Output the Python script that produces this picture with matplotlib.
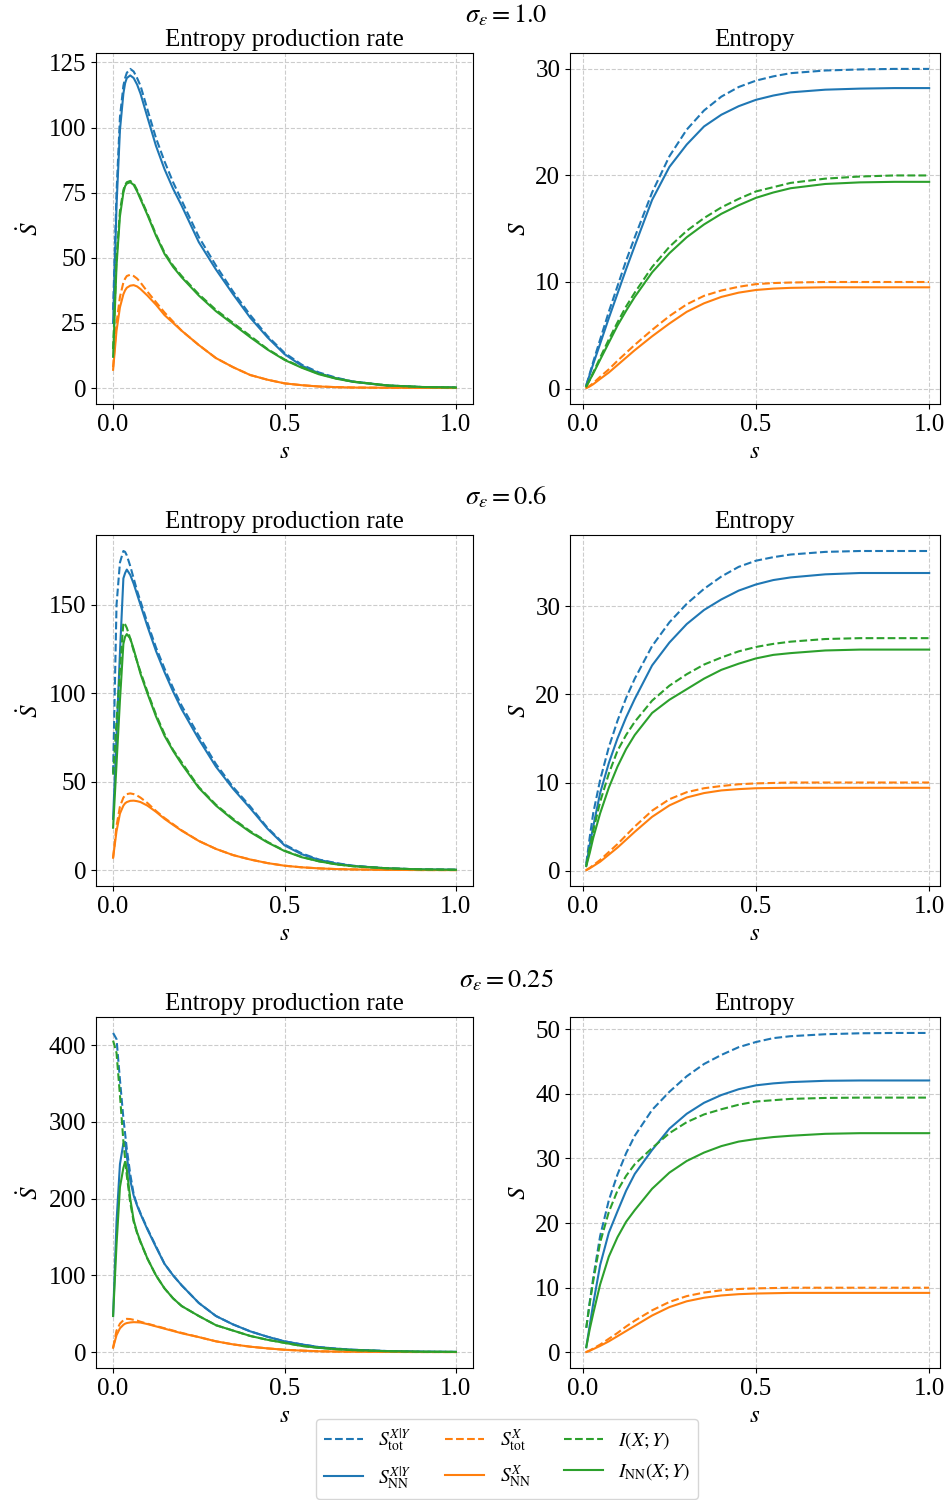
import numpy as np
import matplotlib
matplotlib.use("Agg")
import matplotlib.pyplot as plt
from matplotlib.ticker import MultipleLocator

plt.rcParams['font.family'] = ['Liberation Serif', 'DejaVu Serif']
plt.rcParams['mathtext.fontset'] = 'stix'
plt.rcParams['font.size'] = 18

# time grids
s_rate = [0, 0.01, 0.02, 0.03, 0.035, 0.04, 0.05, 0.06, 0.07, 0.08, 0.1, 0.125, 0.15, 0.175,
          0.2, 0.25, 0.3, 0.35, 0.4, 0.45, 0.5, 0.55, 0.6, 0.65, 0.7, 0.8, 0.9, 1.0]
s_ent = [0.01, 0.02, 0.03, 0.05, 0.075, 0.1, 0.125, 0.15, 0.2, 0.25, 0.3, 0.35, 0.4,
         0.45, 0.5, 0.55, 0.6, 0.7, 0.8, 0.9, 1.0]

sigmas = ['1.0', '0.6', '0.25']
rate_steps = [25, 50, 100]

# ---- sigma = 1.0 ----
rate_xy_tot_1 = [30, 75, 104, 116, 119, 121, 122.5, 121.5, 119, 116, 107, 96, 87, 79, 72, 58, 47, 37, 28, 20, 13.5, 9, 6, 4, 2.5, 1, 0.4, 0.2]
rate_xy_nn_1 = [25, 70, 99, 113, 117, 119, 120, 119, 116.5, 113, 104, 93, 84, 76.5, 70, 56, 45.5, 36, 27, 19.5, 13, 8.6, 5.7, 3.8, 2.4, 0.9, 0.35, 0.15]
rate_x_tot_1 = [8, 25, 35, 40.5, 42, 43, 43.5, 43, 42, 40.5, 37, 33, 29, 25.5, 22, 16.5, 11.5, 8, 5, 3.2, 1.8, 1.1, 0.6, 0.35, 0.2, 0.1, 0.05, 0.02]
rate_x_nn_1 = [7, 22, 31, 36, 37.5, 38.5, 39.3, 39.5, 39, 38, 35.5, 32, 28, 25, 22, 16.5, 11.5, 8, 5, 3.2, 1.8, 1.1, 0.6, 0.35, 0.2, 0.1, 0.05, 0.02]
rate_mi_1 = [15, 50, 68, 76, 78, 79, 79.5, 78.5, 76, 73, 67, 59, 52, 47, 43, 36, 30, 25, 20, 15, 11, 8, 5.5, 3.7, 2.5, 1, 0.4, 0.2]
rate_mi_nn_1 = [12, 47, 66, 75, 77.5, 78.5, 79, 78, 75.5, 72.5, 66.5, 58.5, 51.5, 46.5, 42.5, 35.5, 29.5, 24.5, 19.5, 14.8, 10.8, 7.8, 5.3, 3.6, 2.4, 1, 0.4, 0.2]

ent_xy_tot_1 = [0.3, 1.4, 2.5, 4.6, 7.2, 9.6, 12.0, 14.2, 18.4, 21.8, 24.3, 26.1, 27.4, 28.3, 28.9, 29.3, 29.6, 29.85, 29.95, 30.0, 30.0]
ent_xy_nn_1 = [0.3, 1.3, 2.3, 4.2, 6.6, 8.9, 11.2, 13.4, 17.7, 20.8, 22.9, 24.6, 25.7, 26.5, 27.1, 27.5, 27.8, 28.05, 28.15, 28.2, 28.2]
ent_x_tot_1 = [0.05, 0.25, 0.5, 1.1, 1.8, 2.6, 3.35, 4.1, 5.5, 6.8, 7.9, 8.7, 9.2, 9.55, 9.8, 9.9, 9.95, 10.0, 10.0, 10.0, 10.0]
ent_x_nn_1 = [0.05, 0.2, 0.4, 0.9, 1.5, 2.2, 2.9, 3.6, 4.9, 6.1, 7.2, 8.0, 8.6, 9.0, 9.25, 9.38, 9.45, 9.5, 9.5, 9.5, 9.5]
ent_mi_1 = [0.2, 0.8, 1.5, 2.9, 4.6, 6.2, 7.7, 9.0, 11.4, 13.3, 14.8, 16.0, 17.0, 17.8, 18.5, 18.9, 19.3, 19.7, 19.9, 20.0, 20.0]
ent_mi_nn_1 = [0.2, 0.8, 1.4, 2.7, 4.3, 5.9, 7.3, 8.6, 10.9, 12.7, 14.2, 15.4, 16.4, 17.2, 17.9, 18.4, 18.8, 19.2, 19.35, 19.4, 19.4]

# ---- sigma = 0.6 ----
rate_xy_tot_2 = [55, 150, 174, 180.5, 180, 178, 172, 165, 158, 152, 140, 126, 114, 103, 93, 76, 60, 47, 36, 24, 14.5, 9.5, 6, 4, 2.5, 1, 0.4, 0.2]
rate_xy_nn_2 = [29, 76, 123, 165, 168, 170, 167, 162, 156, 150, 138, 124, 112, 101, 91, 74, 58.5, 46, 35, 23.5, 14, 9, 5.8, 3.8, 2.4, 1, 0.4, 0.2]
rate_x_tot_2 = [7, 25, 36, 41, 42.3, 43, 43.4, 43, 42.2, 41, 38, 33.5, 29.5, 26, 22.5, 16.5, 12, 8.5, 6, 4, 2.5, 1.6, 1, 0.6, 0.4, 0.15, 0.05, 0.02]
rate_x_nn_2 = [7, 22, 32, 36.5, 37.8, 38.5, 39.2, 39.3, 39, 38.5, 36.5, 33, 29, 25.6, 22.3, 16.5, 12, 8.5, 6, 4, 2.5, 1.6, 1, 0.6, 0.4, 0.15, 0.05, 0.02]
rate_mi_2 = [54, 84, 113, 140, 139, 137, 131, 124, 118, 112, 101, 88, 77, 68, 61, 47, 37, 29, 22, 16, 11, 7.5, 5, 3.3, 2.2, 1, 0.4, 0.2]
rate_mi_nn_2 = [24, 60, 96, 128, 132, 133.5, 131, 125, 118, 111, 100, 87, 76, 67.5, 60, 46.5, 36.5, 28.5, 21.5, 15.7, 10.8, 7.3, 5, 3.3, 2.2, 1, 0.4, 0.2]

ent_xy_tot_2 = [0.8, 3.8, 6.5, 10.3, 14.0, 17.0, 19.6, 21.8, 25.5, 28.2, 30.3, 32.0, 33.4, 34.5, 35.2, 35.6, 35.9, 36.2, 36.3, 36.3, 36.3]
ent_xy_nn_2 = [0.6, 2.9, 5.0, 8.8, 12.2, 15.0, 17.4, 19.5, 23.3, 25.9, 28.0, 29.6, 30.8, 31.8, 32.5, 33.0, 33.3, 33.65, 33.8, 33.8, 33.8]
ent_x_tot_2 = [0.05, 0.3, 0.6, 1.2, 2.1, 3.0, 4.0, 5.0, 6.8, 8.1, 8.9, 9.35, 9.6, 9.8, 9.9, 9.95, 10.0, 10.0, 10.0, 10.0, 10.0]
ent_x_nn_2 = [0.05, 0.25, 0.5, 1.0, 1.8, 2.6, 3.5, 4.4, 6.1, 7.4, 8.3, 8.8, 9.1, 9.25, 9.35, 9.38, 9.4, 9.4, 9.4, 9.4, 9.4]
ent_mi_2 = [0.6, 2.6, 4.5, 7.8, 11.0, 13.6, 15.4, 16.9, 19.3, 21.0, 22.3, 23.4, 24.2, 24.9, 25.4, 25.75, 26.0, 26.3, 26.4, 26.4, 26.4]
ent_mi_nn_2 = [0.5, 2.0, 3.7, 6.5, 9.4, 11.8, 13.8, 15.4, 17.9, 19.4, 20.6, 21.8, 22.8, 23.5, 24.1, 24.5, 24.7, 25.0, 25.1, 25.1, 25.1]

# ---- sigma = 0.25 ----
rate_xy_tot_3 = [416, 408, 355, 305, 285, 265, 232, 206, 192, 181, 161, 138, 115, 100, 87, 64, 47, 36, 27, 20, 14, 10, 6.5, 4.5, 3, 1.3, 0.5, 0.2]
rate_xy_nn_3 = [47, 170, 245, 272, 274, 255, 224, 204, 191, 180, 160, 137, 115, 100, 87, 64, 47, 36, 27, 20, 14, 10, 6.5, 4.5, 3, 1.3, 0.5, 0.2]
rate_x_tot_3 = [5.6, 28, 37, 41.5, 42.8, 43.3, 43, 42, 41, 39.5, 37, 34, 31, 28, 25, 19.5, 14, 10, 7, 4.8, 3, 1.9, 1, 0.6, 0.4, 0.15, 0.05, 0.02]
rate_x_nn_3 = [5.6, 22, 31, 35.5, 37, 37.8, 38.6, 39, 38.8, 38.5, 36.5, 33.5, 30.5, 27.5, 24.5, 19.5, 14, 10, 7, 4.8, 3, 1.9, 1, 0.6, 0.4, 0.15, 0.05, 0.02]
rate_mi_3 = [406, 390, 335, 275, 252, 230, 195, 170, 155, 143, 122, 100, 83, 70, 60, 47, 35, 28, 21, 16, 12, 8, 5.5, 3.8, 2.5, 1.1, 0.4, 0.2]
rate_mi_nn_3 = [47, 140, 215, 240, 248, 238, 200, 172, 156, 144, 122, 100, 83, 70, 60, 47, 35, 28, 21, 16, 12, 8, 5.5, 3.8, 2.5, 1.1, 0.4, 0.2]

ent_xy_tot_3 = [3.8, 7.8, 11.5, 18.0, 23.5, 27.5, 30.8, 33.5, 37.5, 40.3, 42.7, 44.6, 46.0, 47.2, 48.0, 48.6, 48.9, 49.2, 49.35, 49.4, 49.4]
ent_xy_nn_3 = [0.8, 4.2, 7.5, 13.5, 18.5, 21.8, 25.0, 27.6, 31.3, 34.6, 36.9, 38.6, 39.8, 40.7, 41.3, 41.6, 41.8, 42.0, 42.05, 42.05, 42.05]
ent_x_tot_3 = [0.05, 0.3, 0.6, 1.2, 2.1, 3.0, 4.0, 4.9, 6.5, 7.8, 8.7, 9.25, 9.6, 9.8, 9.9, 9.95, 10.0, 10.0, 10.0, 10.0, 10.0]
ent_x_nn_3 = [0.05, 0.25, 0.5, 1.0, 1.7, 2.5, 3.3, 4.1, 5.7, 7.0, 7.9, 8.45, 8.8, 9.0, 9.1, 9.15, 9.2, 9.2, 9.2, 9.2, 9.2]
ent_mi_3 = [3.8, 7.6, 11.0, 17.0, 21.7, 25.0, 27.3, 29.1, 31.6, 33.9, 35.6, 36.8, 37.6, 38.3, 38.8, 39.0, 39.2, 39.35, 39.4, 39.4, 39.4]
ent_mi_nn_3 = [0.8, 3.6, 6.0, 10.5, 14.8, 17.8, 20.2, 22.0, 25.3, 27.8, 29.6, 30.9, 31.9, 32.6, 33.0, 33.3, 33.5, 33.8, 33.9, 33.9, 33.9]

rates = [
    (rate_xy_tot_1, rate_xy_nn_1, rate_x_tot_1, rate_x_nn_1, rate_mi_1, rate_mi_nn_1),
    (rate_xy_tot_2, rate_xy_nn_2, rate_x_tot_2, rate_x_nn_2, rate_mi_2, rate_mi_nn_2),
    (rate_xy_tot_3, rate_xy_nn_3, rate_x_tot_3, rate_x_nn_3, rate_mi_3, rate_mi_nn_3),
]
entropies = [
    (ent_xy_tot_1, ent_xy_nn_1, ent_x_tot_1, ent_x_nn_1, ent_mi_1, ent_mi_nn_1),
    (ent_xy_tot_2, ent_xy_nn_2, ent_x_tot_2, ent_x_nn_2, ent_mi_2, ent_mi_nn_2),
    (ent_xy_tot_3, ent_xy_nn_3, ent_x_tot_3, ent_x_nn_3, ent_mi_3, ent_mi_nn_3),
]

labels = [r'$S_{\mathrm{tot}}^{X|Y}$', r'$S_{\mathrm{NN}}^{X|Y}$',
          r'$S_{\mathrm{tot}}^{X}$', r'$S_{\mathrm{NN}}^{X}$',
          r'$I(X;Y)$', r'$I_{\mathrm{NN}}(X;Y)$']
colors = ['tab:blue', 'tab:blue', 'tab:orange', 'tab:orange', 'tab:green', 'tab:green']
styles = ['--', '-', '--', '-', '--', '-']

fig = plt.figure(figsize=(9.5, 15), dpi=100)

bottoms = [0.7307, 0.4093, 0.088]
title_y = [0.990, 0.6687, 0.3467]
h = 0.234

for row in range(3):
    ax_r = fig.add_axes([0.101, bottoms[row], 0.397, h])
    ax_e = fig.add_axes([0.600, bottoms[row], 0.389, h])
    for k in range(6):
        ax_r.plot(s_rate, rates[row][k], ls=styles[k], color=colors[k], lw=1.5, label=labels[k])
        ax_e.plot(s_ent, entropies[row][k], ls=styles[k], color=colors[k], lw=1.5)
    ax_r.set_title('Entropy production rate', fontsize=18, pad=5)
    ax_e.set_title('Entropy', fontsize=18, pad=5)
    ax_r.set_ylabel(r'$\dot{S}$')
    ax_e.set_ylabel(r'$S$')
    ax_r.yaxis.set_major_locator(MultipleLocator(rate_steps[row]))
    ax_e.yaxis.set_major_locator(MultipleLocator(10))
    ax_e.set_xlim(-0.037, 1.03)
    for ax in (ax_r, ax_e):
        ax.set_xlabel(r'$s$')
        ax.set_xticks([0.0, 0.5, 1.0])
        ax.grid(True, ls='--', color='#cccccc', lw=0.8)
        ax.tick_params(labelsize=18)
    fig.text(0.533, title_y[row], r'$\sigma_\varepsilon = %s$' % sigmas[row],
             ha='center', va='center', fontsize=19)
    if row == 2:
        handles, labs = ax_r.get_legend_handles_labels()

fig.legend(handles, labs, ncol=3, loc='lower center', bbox_to_anchor=(0.534, -0.006),
           fontsize=14, frameon=True, handlelength=2.0, columnspacing=1.7)

fig.savefig('out.png', dpi=100)
